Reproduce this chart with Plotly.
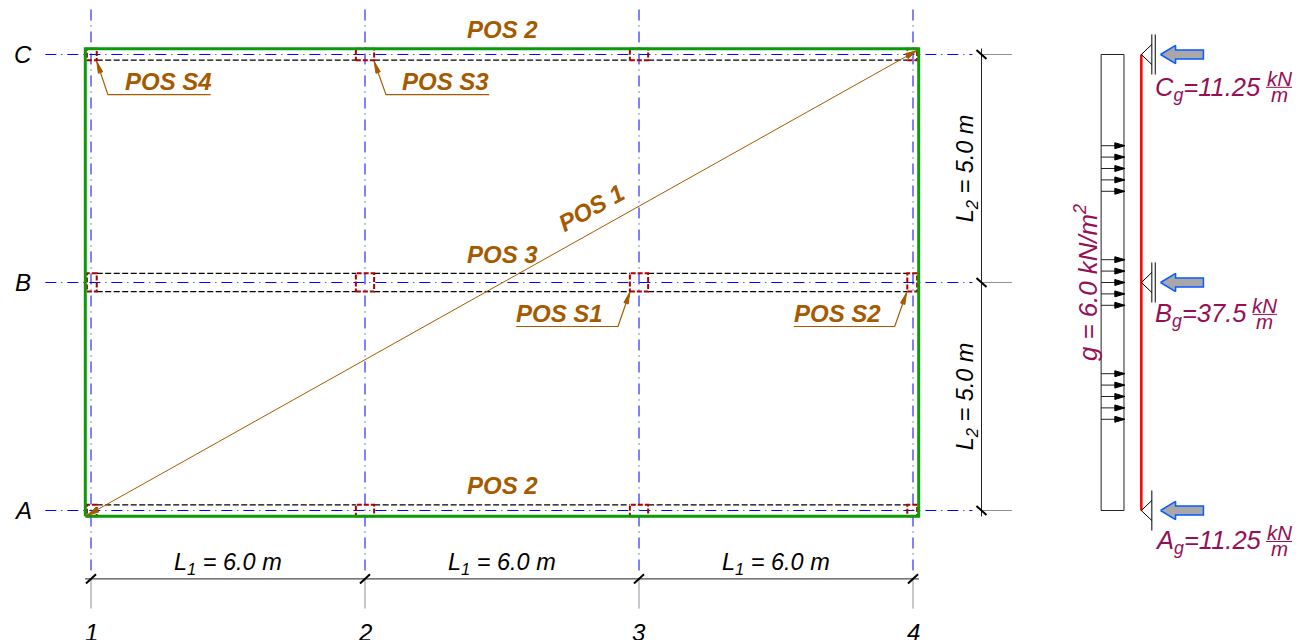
import math
import plotly.graph_objects as go

# ---- model data, all lengths in metres ----
axis_x = [0, 6, 12, 18]
axis_y = [0, 5, 10]
axis_x_names = ["1", "2", "3", "4"]
axis_y_names = ["A", "B", "C"]
span_labels_x = ["L<sub>1</sub> = 6.0 m"] * 3
span_labels_y = ["L<sub>2</sub> = 5.0 m"] * 2
edge = 0.125
beam_half = 0.2
col_half = 0.2
load_levels = [8.0, 7.75, 7.5, 7.25, 7.0, 5.5, 5.25, 5.0, 4.75, 4.5, 3.0, 2.75, 2.5, 2.25, 2.0]
panel_x = 23.0
load_left, load_right = 22.12, 22.62
pos_labels = ["POS 2", "POS 2", "POS 3"]
pos_labels_x = [9.0, 9.0, 9.0]
pos_labels_y = [10.55, 0.55, 5.61]
leader_names = ["POS S4", "POS S3", "POS S1", "POS S2"]
leader_text_x = [1.69, 7.77, 10.25, 16.34]
leader_text_y = [9.41, 9.41, 4.32, 4.32]
leader_tip = [(0.125, 9.85), (6.2, 9.85), (11.8, 4.79), (17.86, 4.78)]
leader_elbow = [(0.37, 9.12), (6.46, 9.12), (11.54, 4.035), (17.6, 4.035)]
leader_end = [(2.62, 9.12), (8.72, 9.12), (9.31, 4.035), (15.39, 4.035)]
react_names = ["C<sub>g</sub>=11.25", "B<sub>g</sub>=37.5", "A<sub>g</sub>=11.25"]
react_y = [10, 5, 0]
react_label_y = [9.25, 4.28, -0.70]
frac_x = [(25.73, 26.30), (25.44, 25.97), (25.73, 26.30)]
frac_y = [9.28, 4.30, -0.68]

BLUE = "#0000ff"
GREEN = "#0a9a0a"
DRED = "#aa0000"
BROWN = "#a55a00"
WINE = "#960f55"
GREY = "#8f8f9a"
FONT = "Liberation Sans"

fig = go.Figure()


def lines(segments, color, width, dash="solid", fill=None):
    xs, ys = [], []
    for seg in segments:
        for p in seg:
            xs.append(p[0])
            ys.append(p[1])
        xs.append(None)
        ys.append(None)
    fig.add_trace(go.Scatter(x=xs, y=ys, mode="lines",
                             line=dict(color=color, width=width, dash=dash),
                             fill="toself" if fill else None, fillcolor=fill,
                             hoverinfo="skip", showlegend=False))


def head(tip, origin, length, half):
    dx, dy = origin[0] - tip[0], origin[1] - tip[1]
    n = math.hypot(dx, dy)
    ux, uy = dx / n, dy / n
    bx, by = tip[0] + ux * length, tip[1] + uy * length
    return [tip, (bx - uy * half, by + ux * half), (bx + uy * half, by - ux * half), tip]


def text(x, y, s, size, color="#000000", angle=0, anchor="center"):
    fig.add_annotation(x=x, y=y, text=s, showarrow=False, xanchor=anchor, yanchor="middle",
                       textangle=angle, font=dict(family=FONT, size=size, color=color))


# grid axes
x0, x1 = axis_x[0], axis_x[-1]
y0, y1 = axis_y[0], axis_y[-1]
gd = "11px,5px,1px,5px"
lines([[(x, 10.987), (x, -1.4)] for x in axis_x] +
      [[(-1.0, y), (19.3, y)] for y in axis_y], BLUE, 1, gd)
lines([[(x, -1.5), (x, -2.15)] for x in axis_x] +
      [[(19.5, y), (20.17, y)] for y in axis_y], GREY, 1)

# beams (dashed)
cols = [(x0 - 0.09, x0 + edge), (axis_x[1] - col_half, axis_x[1] + col_half),
        (axis_x[2] - col_half, axis_x[2] + col_half), (x1 - edge, x1 + 0.09)]
beam_rows = [y1 - edge, y0 + edge, axis_y[1] + beam_half, axis_y[1] - beam_half]
lines([[(cols[i][1], r), (cols[i + 1][0], r)] for r in beam_rows for i in range(3)],
      "#000000", 1.2, "6px,2.5px")

# columns
rows = [(y0 - edge, y0 + edge), (axis_y[1] - col_half, axis_y[1] + col_half), (y1 - edge, y1 + edge)]
lines([[(a, b), (c, b), (c, d), (a, d), (a, b)] for a, c in cols for b, d in rows], DRED, 2, "5px,2px")

# slab outline
lines([[(x0 - edge, y0 - edge), (x1 + edge, y0 - edge), (x1 + edge, y1 + edge),
        (x0 - edge, y1 + edge), (x0 - edge, y0 - edge)]], GREEN, 3)

# diagonal
d0, d1 = (-0.09, -0.11), (18.09, 10.09)
lines([[d0, d1]], BROWN, 1)
lines([head(d0, d1, 0.26, 0.06), head(d1, d0, 0.26, 0.06)], BROWN, 1, fill=BROWN)

# leaders
lines([[leader_tip[i], leader_elbow[i], leader_end[i]] for i in range(4)], BROWN, 1.2)
lines([head(leader_tip[i], leader_elbow[i], 0.26, 0.05) for i in range(4)], BROWN, 1, fill=BROWN)

# dimensions
lines([[(x0 - 0.13, -1.5), (x1 + 0.13, -1.5)], [(19.5, y1 + 0.13), (19.5, y0 - 0.13)]], "#222222", 1)
lines([[(x - 0.11, -1.6), (x + 0.11, -1.4)] for x in axis_x] +
      [[(19.39, y + 0.1), (19.61, y - 0.1)] for y in axis_y], "#000000", 2)

# load panel
lines([[(load_left, 0), (load_right, 0), (load_right, 10), (load_left, 10), (load_left, 0)]], "#222222", 1)
lines([[(panel_x, 0), (panel_x, 10)]], "#ff0000", 2.5)
lines([[(load_left, y), (load_right, y)] for y in load_levels], "#222222", 1)
lines([head((load_right + 0.02, y), (load_left, y), 0.22, 0.065) for y in load_levels], "#000000", 1, fill="#000000")

# supports
sup = []
for y in axis_y:
    sup.append([(23.23, y + 0.22), (panel_x, y), (23.23, y - 0.22)])
    sup.append([(23.23, y + 0.44), (23.23, y - 0.44)])
    if y != axis_y[0]:
        sup.append([(23.305, y + 0.44), (23.305, y - 0.44)])
lines(sup, "#000000", 1)

# reactions
for y in react_y:
    lines([[(23.42, y), (23.75, y + 0.2), (23.75, y + 0.1), (24.36, y + 0.1),
            (24.36, y - 0.1), (23.75, y - 0.1), (23.75, y - 0.2), (23.42, y)]],
          "#0a5aff", 1.5, fill="#a8a8a8")

# texts
for x, n in zip(axis_x, axis_x_names):
    text(x, -2.68, f"<i>{n}</i>", 24)
for y, n in zip(axis_y, axis_y_names):
    text(-1.49, y, f"<i>{n}</i>", 24)
for i, s in enumerate(span_labels_x):
    text((axis_x[i] + axis_x[i + 1]) / 2, -1.17, f"<i>{s}</i>", 23.5)
for i, s in enumerate(span_labels_y):
    text(19.18, (axis_y[i] + axis_y[i + 1]) / 2, f"<i>{s}</i>", 23.5, angle=-90)
for s, x, y in zip(pos_labels, pos_labels_x, pos_labels_y):
    text(x, y, f"<b><i>{s}</i></b>", 24, BROWN)
text(10.97, 6.64, "<b><i>POS 1</i></b>", 24, BROWN, angle=-29)
for s, x, y in zip(leader_names, leader_text_x, leader_text_y):
    text(x, y, f"<b><i>{s}</i></b>", 24, BROWN)
text(21.80, 5.0, "<i>g = 6.0 kN/m<sup>2</sup></i>", 25.8, WINE, angle=-90)
for s, y in zip(react_names, react_label_y):
    text(23.26, y, f"<i>{s}</i>", 25.5, WINE, anchor="left")
for (a, b), y in zip(frac_x, frac_y):
    text((a + b) / 2, y + 0.2, "<i>kN</i>", 20.5, WINE)
    text((a + b) / 2, y - 0.15, "<i>m</i>", 20.5, WINE)
lines([[(a, y), (b, y)] for (a, b), y in zip(frac_x, frac_y)], WINE, 1)

fig.update_layout(width=1306, height=640, margin=dict(l=0, r=0, t=0, b=0),
                  paper_bgcolor="white", plot_bgcolor="white", showlegend=False,
                  xaxis=dict(range=[-1.993, 26.606], visible=False, fixedrange=True),
                  yaxis=dict(range=[-2.84, 11.195], visible=False, fixedrange=True))
fig.write_html("out.html", config={"displayModeBar": False},
               post_script="document.body.style.margin='0';")
